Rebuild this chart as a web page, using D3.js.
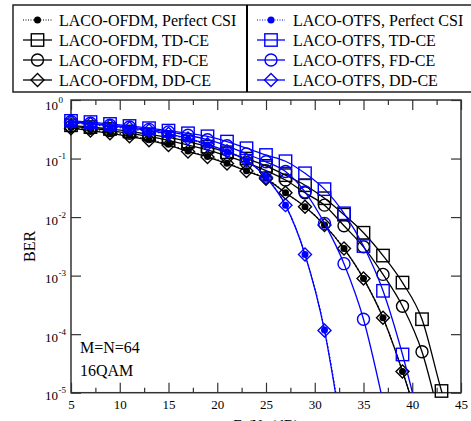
<!DOCTYPE html>
<html><head><meta charset="utf-8">
<script src="https://cdn.jsdelivr.net/npm/d3@7"></script>
<style>
html,body{margin:0;padding:0;background:#fff;}
svg{display:block;}
text{font-family:"Liberation Serif","Times New Roman",serif;fill:#000;}
</style></head>
<body>
<svg id="c" width="471" height="421"></svg>
<script>
// ---------- data ----------
const snr = [5,7,9,11,13,15,17,19,21,23,25,27,29,31,33,35,37,39,41,43,45];
const ofdmPerfect = [0.34,0.31,0.28,0.25,0.21,0.175,0.134,0.108,0.083,0.062,0.046,0.026,0.015,0.0073,0.0029,8.9e-4,1.9e-4,2.3e-5,2e-6,null,null];
const ofdmTD = [0.37,0.345,0.32,0.29,0.26,0.23,0.195,0.16,0.128,0.10,0.075,0.052,0.035,0.021,0.011,0.0054,0.0022,7.6e-4,1.8e-4,1.07e-5,1e-6];
const ofdmFD = [0.355,0.33,0.30,0.27,0.24,0.205,0.17,0.14,0.11,0.085,0.062,0.043,0.026,0.016,0.0071,0.0031,0.00105,3.0e-4,5e-5,2.6e-6,null];
const ofdmDD = [0.33,0.30,0.27,0.24,0.205,0.17,0.132,0.106,0.082,0.061,0.045,0.026,0.015,0.0073,0.0029,8.9e-4,1.9e-4,2.3e-5,2e-6,null,null];
const otfsPerfect = [0.41,0.38,0.35,0.32,0.29,0.26,0.215,0.17,0.13,0.092,0.048,0.016,0.0023,1.18e-4,1.3e-6,null,null,null,null,null,null];
const otfsTD = [0.44,0.42,0.39,0.36,0.33,0.30,0.27,0.24,0.195,0.15,0.115,0.09,0.056,0.030,0.0116,0.0032,5.5e-4,4.5e-5,2.2e-6,null,null];
const otfsFD = [0.43,0.40,0.37,0.345,0.315,0.285,0.25,0.21,0.165,0.12,0.088,0.06,0.027,0.0078,0.0016,1.8e-4,7e-6,null,null,null,null];
const otfsDD = [0.42,0.39,0.36,0.33,0.30,0.265,0.22,0.175,0.133,0.093,0.048,0.016,0.0023,1.15e-4,1.2e-6,null,null,null,null,null,null];

const seriesNames = ["LACO-OFDM, Perfect CSI","LACO-OFDM, TD-CE","LACO-OFDM, FD-CE","LACO-OFDM, DD-CE",
                     "LACO-OTFS, Perfect CSI","LACO-OTFS, TD-CE","LACO-OTFS, FD-CE","LACO-OTFS, DD-CE"];
const xMajorTicks = [5,10,15,20,25,30,35,40,45];
const xMinorTicks = [7.5,12.5,17.5,22.5,27.5,32.5,37.5,42.5];
const yTicks = [1,1e-1,1e-2,1e-3,1e-4,1e-5];
const yTickExp = ["0","-1","-2","-3","-4","-5"];
const xLabel = ["E","b","/N","0"," (dB)"];
const yLabel = "BER";
const notes = ["M=N=64","16QAM"];

// ---------- layout ----------
const svg = d3.select("#c");
const L=71, R=461, T=100, B=392.7;
const x = d3.scaleLinear().domain([5,45]).range([L,R]);
const y = d3.scaleLog().domain([1e-5,1]).range([B,T]);

const series = [
  {name:seriesNames[0], vals:ofdmPerfect, color:"#000", marker:"dot", dash:"1.5,2"},
  {name:seriesNames[1], vals:ofdmTD, color:"#000", marker:"square"},
  {name:seriesNames[2], vals:ofdmFD, color:"#000", marker:"circle"},
  {name:seriesNames[3], vals:ofdmDD, color:"#000", marker:"diamond"},
  {name:seriesNames[4], vals:otfsPerfect, color:"#0000ff", marker:"dot", dash:"1.5,2"},
  {name:seriesNames[5], vals:otfsTD, color:"#0000ff", marker:"square"},
  {name:seriesNames[6], vals:otfsFD, color:"#0000ff", marker:"circle"},
  {name:seriesNames[7], vals:otfsDD, color:"#0000ff", marker:"diamond"}
];

svg.append("defs").append("clipPath").attr("id","pc")
  .append("rect").attr("x",L).attr("y",T).attr("width",R-L).attr("height",B-T);

// axes ticks (inward)
function styleAxis(g){ g.select(".domain").remove(); g.selectAll("line").attr("stroke","#333").attr("stroke-width",1.2); }
svg.append("g").attr("transform",`translate(0,${B})`)
  .call(d3.axisBottom(x).tickValues(xMajorTicks).tickSize(-10).tickPadding(7.5).tickFormat(d3.format("d")))
  .call(styleAxis)
  .call(g=>g.selectAll("text").attr("font-size",13).attr("font-family","Liberation Serif"));
svg.append("g").attr("transform",`translate(0,${B})`)
  .call(d3.axisBottom(x).tickValues(xMinorTicks).tickSize(-5).tickFormat("")).call(styleAxis);
svg.append("g").attr("transform",`translate(0,${T})`)
  .call(d3.axisTop(x).tickValues(xMajorTicks).tickSize(-10).tickFormat("")).call(styleAxis);
svg.append("g").attr("transform",`translate(0,${T})`)
  .call(d3.axisTop(x).tickValues(xMinorTicks).tickSize(-5).tickFormat("")).call(styleAxis);
svg.append("g").attr("transform",`translate(${L},0)`)
  .call(d3.axisLeft(y).tickValues(yTicks).tickSize(-10).tickFormat("")).call(styleAxis);
svg.append("g").attr("transform",`translate(${R},0)`)
  .call(d3.axisRight(y).tickValues(yTicks).tickSize(-10).tickFormat("")).call(styleAxis);

// y tick labels with superscripts
yTicks.forEach((v,i)=>{
  const ty = y(v) + (i===0 ? 10 : 7.5);
  svg.append("text").attr("x",58).attr("y",ty).attr("text-anchor","end").attr("font-size",13).text("10");
  svg.append("text").attr("x",58.5).attr("y",ty-7).attr("font-size",9).text(yTickExp[i]);
});

// frame
svg.append("rect").attr("x",L).attr("y",T).attr("width",R-L).attr("height",B-T)
  .attr("fill","none").attr("stroke","#333").attr("stroke-width",1.5);

// axis labels
svg.append("text").attr("transform",`translate(35,${(T+B)/2}) rotate(-90)`)
  .attr("text-anchor","middle").attr("font-size",16).text(yLabel);
const xl = svg.append("text").attr("x",(L+R)/2).attr("y",429.5).attr("text-anchor","middle").attr("font-size",15);
xl.append("tspan").text(xLabel[0]);
xl.append("tspan").attr("font-size",10).attr("dy",3).text(xLabel[1]);
xl.append("tspan").attr("dy",-3).text(xLabel[2]);
xl.append("tspan").attr("font-size",10).attr("dy",3).text(xLabel[3]);
xl.append("tspan").attr("dy",-3).text(xLabel[4]);

// notes
svg.append("text").attr("x",80).attr("y",353).attr("font-size",16).text(notes[0]);
svg.append("text").attr("x",80).attr("y",375.5).attr("font-size",16).text(notes[1]);

// markers
function drawMarker(g, type, cx, cy, color){
  if(type==="dot"){
    g.append("circle").attr("cx",cx).attr("cy",cy).attr("r",3.5).attr("fill",color);
  } else if(type==="square"){
    g.append("rect").attr("x",cx-6.2).attr("y",cy-6.2).attr("width",12.4).attr("height",12.4)
      .attr("fill","none").attr("stroke",color).attr("stroke-width",1.4);
  } else if(type==="circle"){
    g.append("circle").attr("cx",cx).attr("cy",cy).attr("r",6).attr("fill","none")
      .attr("stroke",color).attr("stroke-width",1.4);
  } else if(type==="diamond"){
    g.append("path").attr("d",`M${cx},${cy-6.5}L${cx+6.5},${cy}L${cx},${cy+6.5}L${cx-6.5},${cy}Z`)
      .attr("fill","none").attr("stroke",color).attr("stroke-width",1.4);
  }
}

const line = d3.line().defined(d=>d[1]!=null).x(d=>x(d[0])).y(d=>y(d[1])).curve(d3.curveMonotoneX);
const plot = svg.append("g");
series.forEach(s=>{
  const pts = snr.map((v,i)=>[v,s.vals[i]]).filter(d=>d[1]!=null);
  plot.append("path").datum(pts).attr("d",line).attr("clip-path","url(#pc)")
    .attr("fill","none").attr("stroke",s.color).attr("stroke-width",1.3)
    .attr("stroke-dasharray",s.dash||null);
  const mg = plot.append("g");
  pts.filter(d=>d[1]>=1e-5).forEach(d=>drawMarker(mg,s.marker,x(d[0]),y(d[1]),s.color));
});

// legend
const lg = svg.append("g");
lg.append("rect").attr("x",13).attr("y",5).attr("width",470).attr("height",87)
  .attr("fill","#fff").attr("stroke","#222").attr("stroke-width",1.5);
lg.append("line").attr("x1",247).attr("x2",247).attr("y1",5).attr("y2",92).attr("stroke","#000").attr("stroke-width",2);
series.forEach((s,i)=>{
  const col = Math.floor(i/4), row = i%4;
  const x0 = col===0 ? 23 : 257, x1 = col===0 ? 52 : 285, tx = col===0 ? 59 : 293;
  const cy = 20 + row*20;
  lg.append("line").attr("x1",x0).attr("x2",x1).attr("y1",cy).attr("y2",cy)
    .attr("stroke",s.color).attr("stroke-width", s.dash?1:1.3).attr("stroke-dasharray",s.dash?"1,1.5":null);
  drawMarker(lg, s.marker, (x0+x1)/2, cy, s.color);
  lg.append("text").attr("x",tx).attr("y",cy+6).attr("font-size",16).text(s.name);
});
</script>
</body></html>
